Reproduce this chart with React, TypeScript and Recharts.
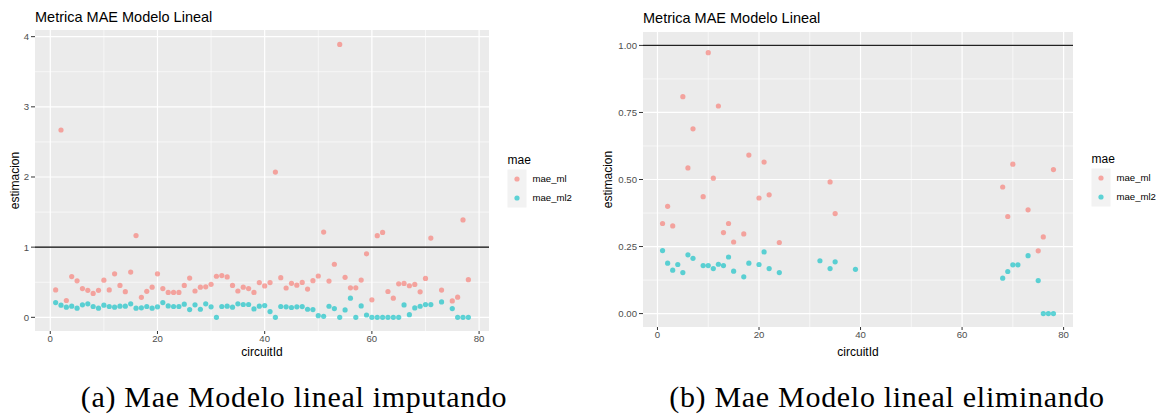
import React from "react";
import {
  ScatterChart,
  Scatter,
  XAxis,
  YAxis,
  CartesianGrid,
  ReferenceLine,
  Legend,
} from "recharts";

// (a) imputando: every circuit except 72 and 74
const circuitIdA = [
  1, 2, 3, 4, 5, 6, 7, 8, 9, 10, 11, 12, 13, 14, 15, 16, 17, 18, 19, 20,
  21, 22, 23, 24, 25, 26, 27, 28, 29, 30, 31, 32, 33, 34, 35, 36, 37, 38, 39, 40,
  41, 42, 43, 44, 45, 46, 47, 48, 49, 50, 51, 52, 53, 54, 55, 56, 57, 58, 59, 60,
  61, 62, 63, 64, 65, 66, 67, 68, 69, 70, 71, 73, 75, 76, 77, 78,
];
const maeMlA = [
  0.39, 2.67, 0.24, 0.58, 0.52, 0.41, 0.385, 0.34, 0.385, 0.53, 0.39, 0.62, 0.455, 0.365, 0.645, 1.165, 0.285, 0.37, 0.43, 0.62,
  0.41, 0.355, 0.355, 0.355, 0.455, 0.56, 0.375, 0.43, 0.435, 0.47, 0.585, 0.595, 0.575, 0.455, 0.375, 0.43, 0.41, 0.355, 0.495, 0.447,
  0.495, 2.07, 0.565, 0.418, 0.485, 0.458, 0.498, 0.402, 0.522, 0.589, 1.215, 0.517, 0.756, 3.89, 0.57, 0.421, 0.421, 0.531, 0.904, 0.249,
  1.163, 1.21, 0.368, 0.273, 0.478, 0.483, 0.45, 0.469, 0.364, 0.555, 1.13, 0.388, 0.234, 0.287, 1.388, 0.536,
];
const maeMl2A = [
  0.21, 0.173, 0.144, 0.159, 0.13, 0.178, 0.192, 0.154, 0.13, 0.173, 0.154, 0.144, 0.159, 0.159, 0.192, 0.13, 0.135, 0.154, 0.13, 0.149,
  0.21, 0.163, 0.154, 0.154, 0.188, 0.11, 0.178, 0.115, 0.192, 0.149, 0, 0.154, 0.159, 0.144, 0.192, 0.183, 0.183, 0.12, 0.159, 0.168,
  0.082, 0, 0.154, 0.15, 0.14, 0.15, 0.153, 0.115, 0.11, 0.024, 0.014, 0.158, 0.124, 0, 0.105, 0.273, 0, 0.163, 0.033, 0,
  0, 0, 0, 0, 0, 0.177, 0.038, 0.134, 0.158, 0.182, 0.182, 0.22, 0.124, 0, 0, 0,
];

// (b) eliminando: only the circuits left after dropping rows
const circuitIdB = [
  1, 2, 3, 4, 5, 6, 7, 9, 10, 11, 12, 13, 14, 15, 17, 18, 20, 21, 22, 24,
  32, 34, 35, 39, 68, 69, 70, 71, 73, 75, 76, 77, 78,
];
const maeMlB = [
  0.336, 0.4, 0.327, null, 0.809, 0.543, 0.689, 0.436, 0.973, 0.505, 0.774, 0.302, 0.336, 0.267, 0.297, 0.591, 0.431, 0.565, 0.443, 0.265,
  null, 0.491, 0.373, null, 0.472, 0.362, 0.557, null, 0.387, 0.234, 0.286, null, 0.537,
];
const maeMl2B = [
  0.235, 0.188, 0.162, 0.183, 0.153, 0.219, 0.206, 0.179, 0.179, 0.168, 0.184, 0.179, 0.211, 0.158, 0.137, 0.188, 0.183, 0.23, 0.168, 0.153,
  0.197, 0.168, 0.193, 0.165, 0.132, 0.157, 0.182, 0.182, 0.216, 0.123, 0, 0, 0,
];

const xTicks = [0, 20, 40, 60, 80];
const xMinor = [10, 30, 50, 70];
const yTicksA = [0, 1, 2, 3, 4];
const yMinorA = [0.5, 1.5, 2.5, 3.5];
const yTicksB = [0, 0.25, 0.5, 0.75, 1];
const yMinorB = [0.125, 0.375, 0.625, 0.875];

const RED = "#F8766D";
const CYAN = "#00BFC4";
const ALPHA = 0.62;
const SANS = "'Liberation Sans', Arial, Helvetica, sans-serif";
const SERIF = "'Liberation Serif', 'DejaVu Serif', 'Times New Roman', serif";

type Pt = { x: number; y: number };
const toPoints = (ids: number[], vals: (number | null)[]): Pt[] =>
  ids
    .map((id, i) => ({ x: id, y: vals[i] }))
    .filter((p): p is Pt => p.y !== null && p.y !== undefined);

const dot = (color: string) => (p: any) =>
  <circle cx={p.cx} cy={p.cy} r={2.6} fill={color} fillOpacity={ALPHA} />;

const MaeLegend = () => (
  <svg width={90} height={62} style={{ display: "block" }} fontFamily={SANS}>
    <text x={0.5} y={13.5} fontSize={12} fill="#000">mae</text>
    <rect x={0.5} y={19.5} width={19} height={38} fill="#F2F2F2" />
    <circle cx={10} cy={29} r={2.6} fill={RED} fillOpacity={ALPHA} />
    <circle cx={10} cy={48} r={2.6} fill={CYAN} fillOpacity={ALPHA} />
    <text x={25.5} y={32.4} fontSize={9.6} fill="#000">mae_ml</text>
    <text x={25.5} y={51.4} fontSize={9.6} fill="#000">mae_ml2</text>
  </svg>
);

const yTitle = (bx: number) => (props: any) => {
  const vb = props.viewBox;
  const cy = vb.y + vb.height / 2;
  return (
    <text x={bx} y={cy} transform={`rotate(-90 ${bx} ${cy})`} textAnchor="middle" fontSize={12} fill="#000">
      estimacion
    </text>
  );
};

const tickStyle = { fill: "#4D4D4D", fontSize: 9.6 };

function MaePlot(props: {
  width: number;
  margin: { top: number; right: number; left: number; bottom: number };
  yWidth: number;
  xHeight: number;
  yDomain: [number, number];
  yTicks: number[];
  yMinor: number[];
  fmt: (v: number) => string;
  ml: Pt[];
  ml2: Pt[];
  yTitleX: number;
  legendTop: number;
  lineColor: string;
}) {
  return (
    <ScatterChart width={props.width} height={365} margin={props.margin}>
      <CartesianGrid
        fill="#EBEBEB"
        stroke="#FFFFFF"
        strokeWidth={0.6}
        horizontalValues={props.yMinor}
        verticalValues={xMinor}
      />
      <CartesianGrid
        stroke="#FFFFFF"
        strokeWidth={1.2}
        horizontalValues={props.yTicks}
        verticalValues={xTicks}
      />
      <XAxis
        type="number"
        dataKey="x"
        domain={[-2.85, 81.85]}
        ticks={xTicks}
        interval={0}
        allowDataOverflow
        axisLine={false}
        tickLine={{ stroke: "#333333" }}
        tickSize={3}
        tickMargin={1}
        tick={tickStyle}
        height={props.xHeight}
        label={{ value: "circuitId", position: "insideBottom", offset: 9, fontSize: 12, fill: "#000" }}
      />
      <YAxis
        type="number"
        dataKey="y"
        domain={props.yDomain}
        ticks={props.yTicks}
        interval={0}
        allowDataOverflow
        axisLine={false}
        tickLine={{ stroke: "#333333" }}
        tickSize={4}
        tickMargin={2}
        tick={tickStyle}
        tickFormatter={props.fmt}
        width={props.yWidth}
        label={yTitle(props.yTitleX)}
      />
      <ReferenceLine y={1} stroke={props.lineColor} strokeWidth={1.2} />
      <Scatter name="mae_ml" data={props.ml} shape={dot(RED)} isAnimationActive={false} />
      <Scatter name="mae_ml2" data={props.ml2} shape={dot(CYAN)} isAnimationActive={false} />
      <Legend
        layout="vertical"
        align="center"
        verticalAlign="middle"
        wrapperStyle={{ left: props.width - props.margin.right + 18, top: props.legendTop, width: 90 }}
        content={() => <MaeLegend />}
      />
    </ScatterChart>
  );
}

export default function App() {
  const mlA = toPoints(circuitIdA, maeMlA);
  const ml2A = toPoints(circuitIdA, maeMl2A);
  const mlB = toPoints(circuitIdB, maeMlB);
  const ml2B = toPoints(circuitIdB, maeMl2B);

  return (
    <div
      style={{
        position: "absolute",
        left: 0,
        top: 0,
        width: 1167,
        height: 414,
        background: "#fff",
        fontFamily: SANS,
      }}
    >
      <div style={{ position: "absolute", left: 0, top: 0 }}>
        <MaePlot
          width={580}
          margin={{ top: 30, right: 91, left: 0, bottom: 0 }}
          yWidth={35}
          xHeight={34}
          yDomain={[-0.195, 4.095]}
          yTicks={yTicksA}
          yMinor={yMinorA}
          fmt={(v) => String(v)}
          ml={mlA}
          ml2={ml2A}
          yTitleX={18.5}
          legendTop={150}
          lineColor="#000000"
        />
      </div>
      <div style={{ position: "absolute", left: 583, top: 0 }}>
        <MaePlot
          width={584}
          margin={{ top: 32, right: 94, left: 0, bottom: 0 }}
          yWidth={60}
          xHeight={38}
          yDomain={[-0.05, 1.05]}
          yTicks={yTicksB}
          yMinor={yMinorB}
          fmt={(v) => v.toFixed(2)}
          ml={mlB}
          ml2={ml2B}
          yTitleX={28.5}
          legendTop={149}
          lineColor="#222222"
        />
      </div>
      <svg width={1167} height={414} style={{ position: "absolute", left: 0, top: 0, pointerEvents: "none" }}>
        <text x={35} y={22.3} fontSize={14.5} fill="#000" fontFamily={SANS}>Metrica MAE Modelo Lineal</text>
        <text x={643} y={23.3} fontSize={14.5} fill="#000" fontFamily={SANS}>Metrica MAE Modelo Lineal</text>
        <text x={294} y={406.5} textAnchor="middle" fontSize={30} letterSpacing={0.7} fill="#000" fontFamily={SERIF}>
          (a) Mae Modelo lineal imputando
        </text>
        <text x={887} y={406.5} textAnchor="middle" fontSize={30} letterSpacing={0.7} fill="#000" fontFamily={SERIF}>
          (b) Mae Modelo lineal eliminando
        </text>
      </svg>
    </div>
  );
}
